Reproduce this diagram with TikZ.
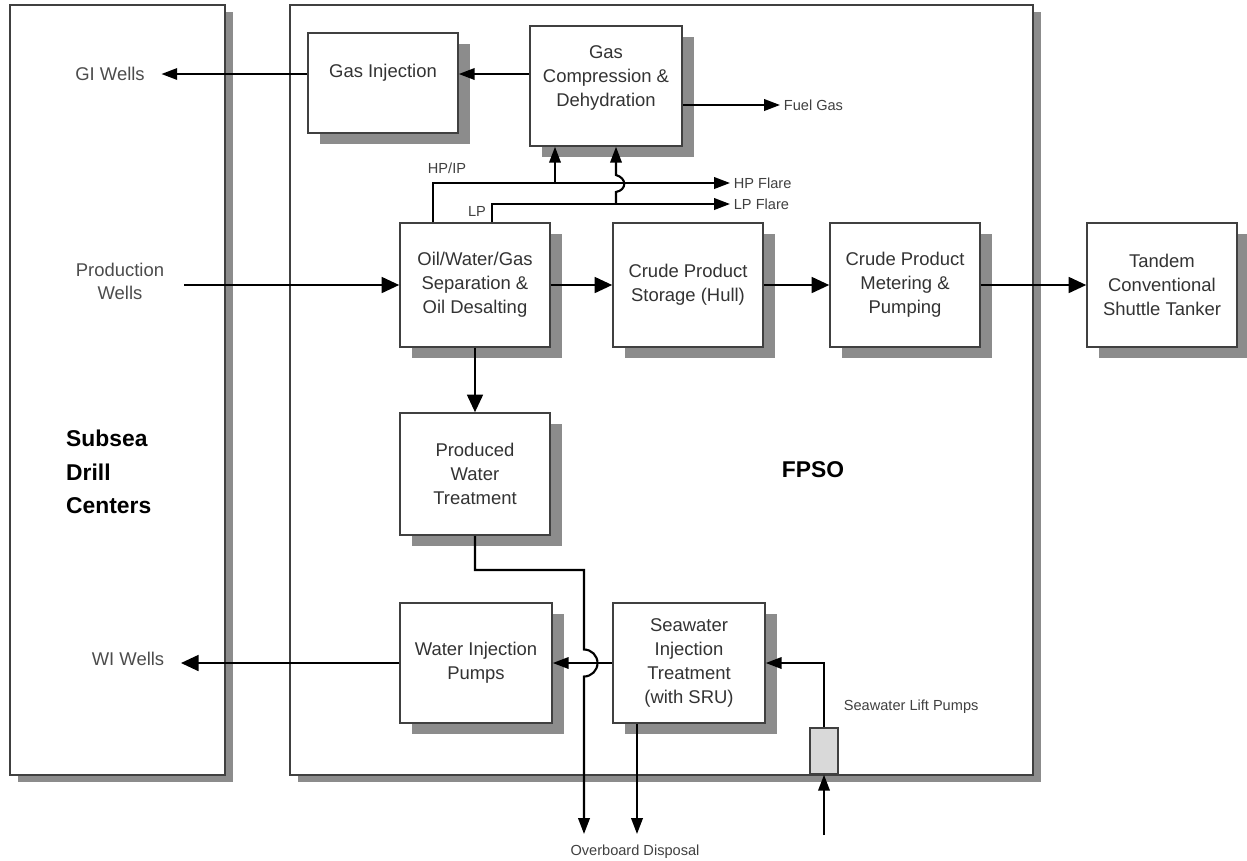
\documentclass[tikz,border=0pt]{standalone}
\usepackage{fontspec}
\setmainfont{Liberation Sans}
\usetikzlibrary{shadows,arrows.meta}

\begin{document}
\begin{tikzpicture}[
	x=0.02cm, y=-0.02cm,
	text=black!80,
	blk/.style={draw=black!75, line width=0.9pt, fill=white, align=center,
		minimum width=3cm, minimum height=2.48cm, inner sep=2pt,
		font=\fontsize{10.5}{13.6}\selectfont,
		drop shadow={shadow xshift=0.24cm, shadow yshift=-0.22cm, fill=black!45, opacity=1}},
	big/.style={draw=black!75, line width=1pt, fill=white,
		drop shadow={shadow xshift=0.16cm, shadow yshift=-0.14cm, fill=black!45, opacity=1}},
	flow/.style={line width=1.3pt, -{Triangle[length=10pt,width=9pt]}},
	feed/.style={line width=1.2pt, -{Triangle[length=9pt,width=6.5pt]}},
	pipe/.style={line width=1.2pt},
	lbl/.style={font=\fontsize{10.5}{13}\selectfont, text=black!70, align=center},
	sm/.style={font=\fontsize{8.3}{10}\selectfont, text=black!75, inner sep=2pt}
	]
\useasboundingbox (0,0) rectangle (1247,860);

\node[big, minimum width=4.3cm, minimum height=15.4cm] (subsea) at (117.5,390) {};
\node[big, minimum width=14.86cm, minimum height=15.4cm] (fpso) at (661.5,390) {};

\node[font=\fontsize{13}{19}\selectfont\bfseries, text=black, align=left, anchor=west] (sdc) at (60,472) {Subsea\\Drill\\Centers};
\node[font=\fontsize{13}{15}\selectfont\bfseries, text=black] (fpsotxt) at (813,470) {FPSO};

\node[blk, minimum height=2cm] (gasinj) at (383,83) {Gas Injection\\~};
\node[blk, minimum width=3.04cm, minimum height=2.4cm] (gascomp) at (606,86) {Gas\\Compression \&\\Dehydration\\[-2pt]~};
\node[blk] (oil) at (475,285) {Oil/Water/Gas\\Separation \&\\Oil Desalting};
\node[blk] (stor) at (688,285) {Crude Product\\Storage (Hull)};
\node[blk] (meter) at (905,285) {Crude Product\\Metering \&\\Pumping};
\node[blk] (tandem) at (1162,285) {Tandem\\Conventional\\Shuttle Tanker};
\node[blk, minimum height=2.44cm] (pw) at (475,474) {Produced\\Water\\Treatment};
\node[blk, minimum width=3.04cm, minimum height=2.4cm] (wip) at (476,663) {Water Injection\\Pumps};
\node[blk, minimum width=3.04cm, minimum height=2.4cm] (sw) at (689,663) {Seawater\\Injection\\Treatment\\(with SRU)};
\node[draw=black!75, line width=0.9pt, fill=black!15, minimum width=0.56cm, minimum height=0.92cm] (pump) at (824,751) {};

\node[lbl] (giw) at (110,74) {GI Wells};
\node[lbl] (prodw) at (120,281) {Production\\Wells};
\node[lbl] (wiw) at (128,659) {WI Wells};
\node[sm, anchor=west] (fuel) at (780,105) {Fuel Gas};
\node[sm, anchor=west] (hpf) at (730,183) {HP Flare};
\node[sm, anchor=west] (lpf) at (730,204) {LP Flare};
\node[sm] (hpip) at (447,168) {HP/IP};
\node[sm] (lp) at (477,211) {LP};
\node[sm] (obd) at (635,852) {Overboard Disposal};
\node[sm, anchor=west] (slp) at (840,707) {Seawater Lift Pumps};

\coordinate (hpc) at (433,183);
\coordinate (lpc) at (492,204);
\coordinate (hpj) at (555,183);
\coordinate (lpj) at (616,204);
\coordinate (pwbend) at (584,570);
\coordinate (jmp) at (584,649.5);
\coordinate (ob1) at (584,834);
\coordinate (ob2) at (637,834);
\coordinate (sea) at (824,835);

\draw[feed] (gascomp.west |- giw) -- (gasinj.east |- giw);
\draw[feed, shorten >=6pt] (gasinj.west |- giw) -- (giw.east);
\draw[feed] (gascomp.east |- fuel) -- (fuel.west);

\draw[feed] (oil.north -| hpc) |- (hpf.west);
\draw[feed] (oil.north -| lpc) |- (lpf.west);
\draw[feed] (hpj) -- (hpj |- gascomp.south);
\draw[feed] (lpj) -- ++(0,-12) .. controls +(11,-2) and +(11,3) .. ++(0,-17) -- (lpj |- gascomp.south);

\draw[flow, shorten <=8pt] (prodw.east |- oil) -- (oil.west);
\draw[flow] (oil.east) -- (stor.west);
\draw[flow] (stor.east) -- (meter.west);
\draw[flow] (meter.east) -- (tandem.west);
\draw[flow] (oil.south) -- (pw.north);

\draw[feed] (pw.south) |- (pwbend) -- (jmp) arc[start angle=90, end angle=-90, radius=0.27cm] -- (ob1);
\draw[feed] (sw.south -| ob2) -- (ob2);
\draw[feed] (sw.west) -- (wip.east);
\draw[flow, shorten >=6pt] (wip.west) -- (wip.west -| wiw.east);
\draw[feed] (pump.north) |- (sw.east);
\draw[feed] (sea) -- (pump.south);

\end{tikzpicture}
\end{document}
